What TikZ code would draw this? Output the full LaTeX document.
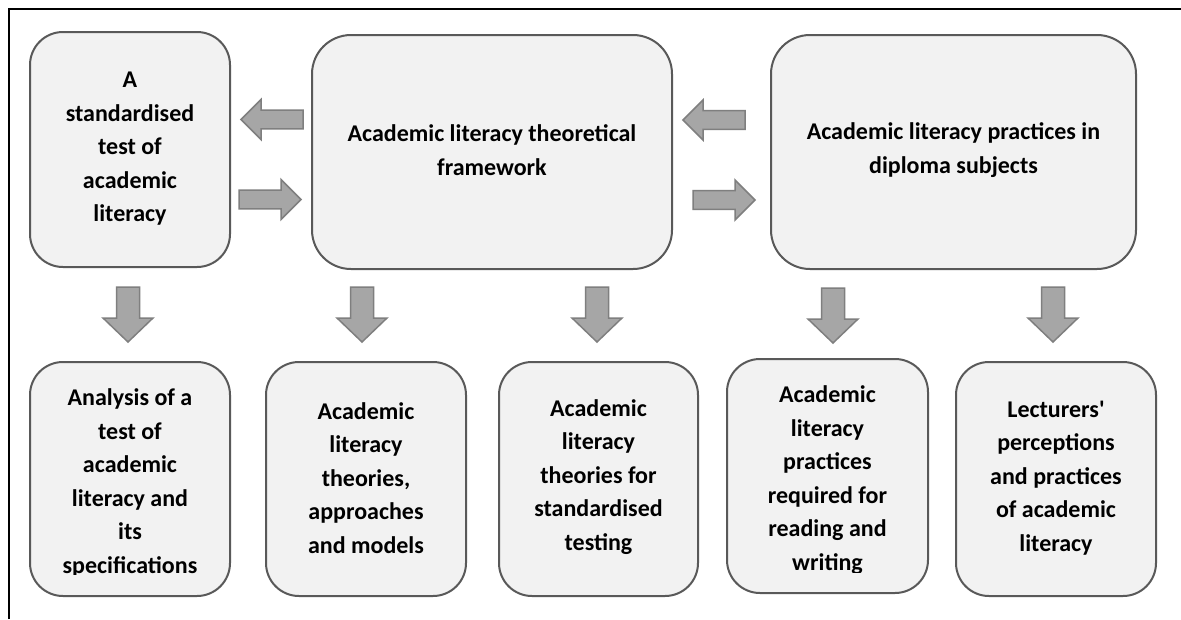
\documentclass[tikz,border=0pt]{standalone}
\usepackage{fontspec}
\setmainfont{Carlito}
\definecolor{boxfill}{HTML}{F2F2F2}
\definecolor{boxline}{HTML}{595959}
\definecolor{arrfill}{HTML}{A6A6A6}
\definecolor{arrline}{HTML}{7F7F7F}
\begin{document}
\begin{tikzpicture}[x=1pt,y=-1pt,
  box/.style={draw=boxline, fill=boxfill, line width=2pt, rounded corners=#1, inner sep=0pt, outer sep=0pt},
  box/.default=33pt,
  txt/.style={align=center, font=\fontsize{24}{33.5}\selectfont\bfseries, inner sep=0pt},
  arr/.style={fill=arrfill, draw=arrline, line width=1.5pt},
  downarr/.pic={\draw[arr] (-11.5,0) -- (-11.5,31) -- (-25,31) -- (0,55) -- (25,31) -- (11.5,31) -- (11.5,0) -- cycle;},
  rarr/.pic={\draw[arr] (0,-9.3) -- (42,-9.3) -- (42,-20) -- (62,0) -- (42,20) -- (42,9.3) -- (0,9.3) -- cycle;},
  larr/.pic={\draw[arr] (0,0) -- (20,-20) -- (20,-9.3) -- (62,-9.3) -- (62,9.3) -- (20,9.3) -- (20,20) -- cycle;},
  ]
\useasboundingbox (0,0) rectangle (1181,619);
\fill[white] (0,0) rectangle (1181,619);
% frame
\draw[line width=2.5pt] (9,619) -- (9,9) -- (1181,9);

% top boxes
\node[box, minimum width=200pt, minimum height=235pt] (a) at (130,149.5) {};
\node[box=39pt, minimum width=360pt, minimum height=234pt] (b) at (492,152) {};
\node[box=39pt, minimum width=365pt, minimum height=234pt] (c) at (953.5,152) {};
\node[txt] (ta) at (130,149) {A\\standardised\\test of\\academic\\literacy};
\node[txt] (tb) at (492,150) {Academic literacy theoretical\\framework};
\node[txt] (tc) at (953.5,150) {Academic literacy practices in\\diploma subjects};

% bottom boxes
\node[box, minimum width=200pt, minimum height=234pt] (b1) at (130,479) {};
\node[box, minimum width=200pt, minimum height=234pt] (b2) at (366,479) {};
\node[box, minimum width=199pt, minimum height=234pt] (b3) at (598.5,479) {};
\node[box, minimum width=201pt, minimum height=234pt] (b4) at (827.5,476) {};
\node[box, minimum width=200pt, minimum height=234pt] (b5) at (1056,479) {};

\begin{scope}
\clip (30,362) rectangle (230,574);
\node[txt] (t1) at (130,483) {Analysis of a\\test of\\academic\\literacy and\\its\\specifications};
\end{scope}
\node[txt] (t2) at (366,478) {Academic\\literacy\\theories,\\approaches\\and models};
\node[txt] (t3) at (598.5,477) {Academic\\literacy\\theories for\\standardised\\testing};
\begin{scope}
\clip (727,359) rectangle (928,572);
\node[txt] (t4) at (827.5,480) {Academic\\literacy\\practices\\required for\\reading and\\writing};
\end{scope}
\node[txt] (t5) at (1056,478) {Lecturers\textquotesingle\\perceptions\\and practices\\of academic\\literacy};

% horizontal arrows
\pic at (241,119.5) {larr};
\pic at (239,199.5) {rarr};
\pic at (683,120) {larr};
\pic at (693,200) {rarr};

% down arrows
\pic at (128,287) {downarr};
\pic at (362,287) {downarr};
\pic at (597,287) {downarr};
\pic at (833,288) {downarr};
\pic at (1053,287) {downarr};
\end{tikzpicture}
\end{document}
